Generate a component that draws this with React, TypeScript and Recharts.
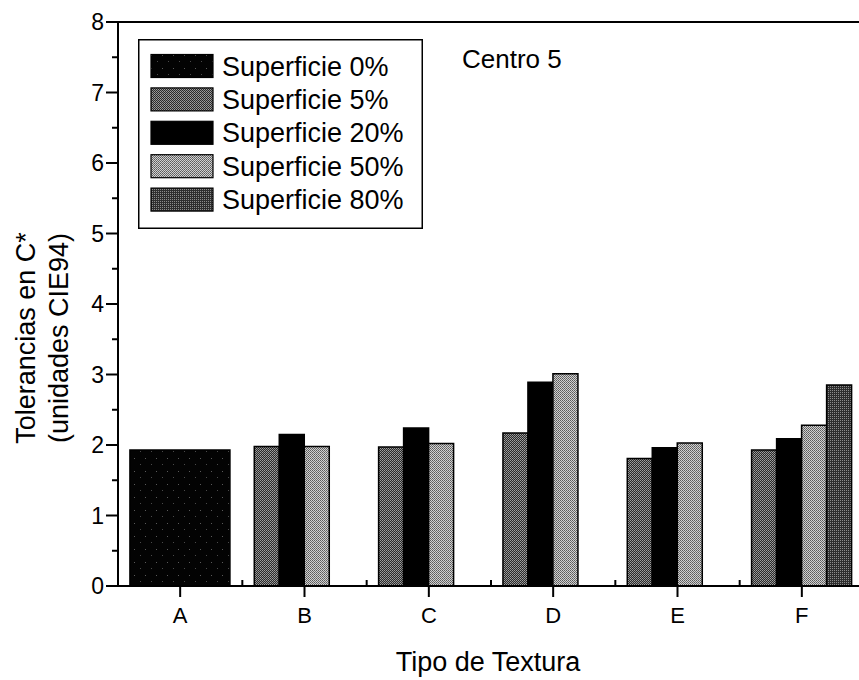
import React from 'react';
import { BarChart, Bar, XAxis, YAxis, ReferenceLine, Legend } from 'recharts';

// Tolerancias en C* por tipo de textura (Centro 5)
const categories = ['A', 'B', 'C', 'D', 'E', 'F'];
const sup0 = [1.93, null, null, null, null, null];
const sup5 = [null, 1.98, 1.97, 2.17, 1.81, 1.93];
const sup20 = [null, 2.15, 2.24, 2.89, 1.96, 2.09];
const sup50 = [null, 1.98, 2.02, 3.01, 2.03, 2.28];
const sup80 = [null, null, null, null, null, 2.85];
const yTicks = [0, 0.5, 1, 1.5, 2, 2.5, 3, 3.5, 4, 4.5, 5, 5.5, 6, 6.5, 7, 7.5, 8];
const seriesNames = ['Superficie 0%', 'Superficie 5%', 'Superficie 20%', 'Superficie 50%', 'Superficie 80%'];
const seriesFills = ['url(#p0)', 'url(#p5)', '#000', 'url(#p50)', 'url(#p80)'];

const data = categories.map((cat, i) => ({
  cat,
  s0: sup0[i],
  s5: sup5[i],
  s20: sup20[i],
  s50: sup50[i],
  s80: sup80[i],
}));

const FONT = '"Liberation Sans", Arial, sans-serif';
const W = 900;
const H = 680;
const LEFT = 118;
const RIGHT_MARGIN = 36;
const HALF_BAND = (W - LEFT - RIGHT_MARGIN) / categories.length / 2;

const YTick = (props: any) => {
  const { x, y, payload } = props;
  const major = Number.isInteger(payload.value);
  return (
    <g>
      <line x1={x - (major ? 12 : 6)} x2={x} y1={y} y2={y} stroke="#000" strokeWidth={2} />
      {major && (
        <text x={x - 14} y={y + 8} textAnchor="end" fontSize={23} fontFamily={FONT} fill="#000">
          {payload.value}
        </text>
      )}
    </g>
  );
};

const XTick = (props: any) => {
  const { x, y, payload } = props;
  return (
    <g>
      <line x1={x} x2={x} y1={y} y2={y + 11} stroke="#000" strokeWidth={2} />
      <line x1={x + HALF_BAND} x2={x + HALF_BAND} y1={y} y2={y - 6} stroke="#000" strokeWidth={2} />
      <text x={x} y={y + 37} textAnchor="middle" fontSize={22} fontFamily={FONT} fill="#000">
        {payload.value}
      </text>
    </g>
  );
};

const YTitle = () => (
  <g fontSize={27} fontFamily={FONT} fill="#000">
    <text transform="translate(35,338) rotate(-90)" textAnchor="middle">Tolerancias en C*</text>
    <text transform="translate(68,338) rotate(-90)" textAnchor="middle">(unidades CIE94)</text>
  </g>
);

const XTitle = () => (
  <text x={488} y={671} textAnchor="middle" fontSize={27} fontFamily={FONT} fill="#000">
    Tipo de Textura
  </text>
);

const LegendBox = () => (
  <svg width={285} height={190} style={{ display: 'block' }}>
    <rect x={0.75} y={0.75} width={283.5} height={188.5} fill="#fff" stroke="#000" strokeWidth={1.5} />
    {seriesNames.map((name, i) => {
      const cy = 27 + i * 33.4;
      return (
        <g key={name}>
          <rect x={13} y={cy - 11.5} width={62} height={23} fill={seriesFills[i]} stroke="#000" strokeWidth={1.2} />
          <text x={84} y={cy + 9.6} fontSize={27} fontFamily={FONT} fill="#000">
            {name}
          </text>
        </g>
      );
    })}
  </svg>
);

export default function App() {
  return (
    <div style={{ position: 'absolute', left: 0, top: 0, width: 859, height: 680, overflow: 'hidden', background: '#fff' }}>
      <BarChart
        width={W}
        height={H}
        data={data}
        margin={{ top: 22, right: RIGHT_MARGIN, bottom: 34, left: 0 }}
        barCategoryGap="9.6%"
        barGap={0}
      >
        <defs>
          <pattern id="p0" width={11} height={13} patternUnits="userSpaceOnUse">
            <rect width={11} height={13} fill="#030303" />
            <rect x={2} y={3} width={1} height={1} fill="#5a5a5a" />
            <rect x={8} y={9} width={1} height={1} fill="#4a4a4a" />
          </pattern>
          <pattern id="p5" width={2} height={2} patternUnits="userSpaceOnUse">
            <rect width={2} height={2} fill="#2a2a2a" />
            <rect x={0} y={0} width={1} height={1} fill="#a0a0a0" />
            <rect x={1} y={1} width={1} height={1} fill="#8a8a8a" />
          </pattern>
          <pattern id="p50" width={2} height={2} patternUnits="userSpaceOnUse">
            <rect width={2} height={2} fill="#d0d0d0" />
            <rect x={0} y={0} width={1} height={1} fill="#5a5a5a" />
            <rect x={1} y={1} width={1} height={1} fill="#707070" />
          </pattern>
          <pattern id="p80" width={2} height={2} patternUnits="userSpaceOnUse">
            <rect width={2} height={2} fill="#2e2e2e" />
            <rect x={0} y={0} width={1} height={1} fill="#8c8c8c" />
          </pattern>
        </defs>
        <XAxis xAxisId="full" dataKey="cat" orientation="top" height={0} hide />
        <XAxis
          xAxisId="main"
          dataKey="cat"
          height={60}
          tickSize={0}
          tickMargin={0}
          tick={<XTick />}
          tickLine={false}
          axisLine={{ stroke: '#000', strokeWidth: 2 }}
          interval={0}
          label={{ content: () => <XTitle /> }}
        />
        <YAxis
          width={LEFT}
          domain={[0, 8]}
          ticks={yTicks}
          interval={0}
          tickSize={0}
          tickMargin={0}
          tick={<YTick />}
          tickLine={false}
          axisLine={{ stroke: '#000', strokeWidth: 2 }}
          label={{ content: () => <YTitle /> }}
        />
        <ReferenceLine xAxisId="main" y={8} stroke="#000" strokeWidth={2} />
        <Legend
          layout="horizontal"
          verticalAlign="middle"
          align="center"
          wrapperStyle={{ position: 'absolute', left: 138, top: 39, width: 285, height: 190 }}
          content={() => <LegendBox />}
        />
        <Bar xAxisId="full" dataKey="s0" name={seriesNames[0]} fill={seriesFills[0]} stroke="#000" strokeWidth={1.5} isAnimationActive={false} />
        <Bar xAxisId="main" dataKey="s5" name={seriesNames[1]} fill={seriesFills[1]} stroke="#000" strokeWidth={1.5} isAnimationActive={false} />
        <Bar xAxisId="main" dataKey="s20" name={seriesNames[2]} fill={seriesFills[2]} stroke="#000" strokeWidth={1.5} isAnimationActive={false} />
        <Bar xAxisId="main" dataKey="s50" name={seriesNames[3]} fill={seriesFills[3]} stroke="#000" strokeWidth={1.5} isAnimationActive={false} />
        <Bar xAxisId="main" dataKey="s80" name={seriesNames[4]} fill={seriesFills[4]} stroke="#000" strokeWidth={1.5} isAnimationActive={false} />
      </BarChart>
      <div
        style={{
          position: 'absolute',
          left: 462,
          top: 46,
          fontFamily: FONT,
          fontSize: 26,
          lineHeight: 1,
          color: '#000',
          whiteSpace: 'nowrap',
        }}
      >
        Centro 5
      </div>
    </div>
  );
}
